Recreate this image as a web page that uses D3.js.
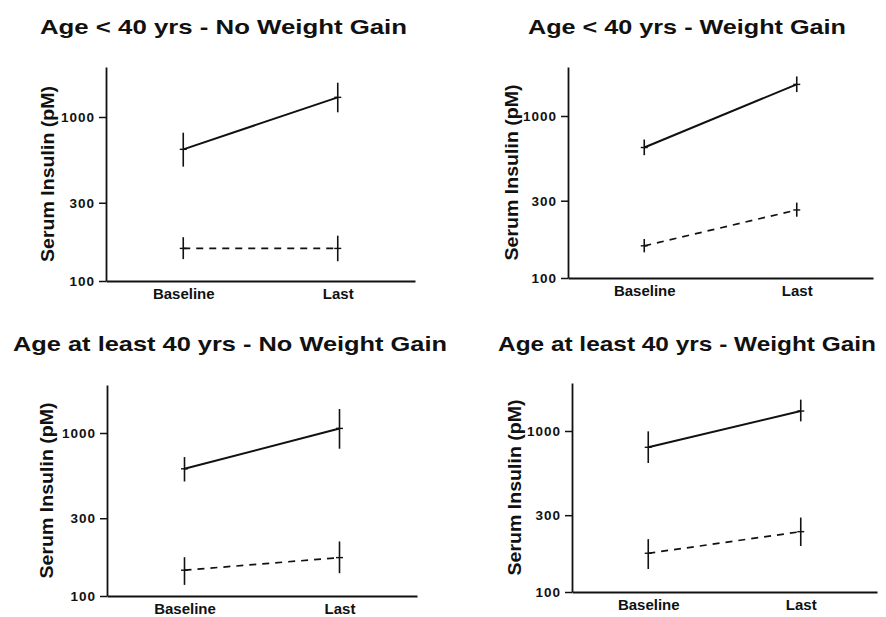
<!DOCTYPE html>
<html>
<head>
<meta charset="utf-8">
<script src="https://cdn.jsdelivr.net/npm/d3@7"></script>
<style>
  html, body { margin: 0; padding: 0; background: #fff; }
  svg { display: block; }
  text { font-family: "Liberation Sans", Arial, Helvetica, sans-serif; font-weight: bold; fill: #111; }
</style>
</head>
<body>
<svg id="chart" width="886" height="617"></svg>
<script>
// ---------- data ----------
const categories = ["Baseline", "Last"];
const yTickValues = [100, 300, 1000];
const panelTitles = [
  "Age < 40 yrs - No Weight Gain",
  "Age < 40 yrs - Weight Gain",
  "Age at least 40 yrs - No Weight Gain",
  "Age at least 40 yrs - Weight Gain"
];
const yAxisLabel = "Serum Insulin (pM)";

// solid-line group: mean and error-bar ends per panel [Baseline, Last]
const solidMean = [[635, 1318], [639, 1567], [603, 1067], [792, 1330]];
const solidLow  = [[498, 1068], [573, 1405], [504, 801],  [633, 1148]];
const solidHigh = [[802, 1618], [716, 1755], [712, 1404], [995, 1566]];

// dashed-line group
const dashedMean = [[158, 158], [158, 263], [144, 172], [174, 237]];
const dashedLow  = [[136, 132], [144, 239], [117, 138], [139, 193]];
const dashedHigh = [[185, 189], [174, 292], [173, 216], [213, 290]];

// ---------- layout ----------
const layout = [
  { axisX: 106, right: 415, top: 67,  y100: 281, y1000: 117, titleX: 223.5, titleY: 34,  titleW: 367, labelX: 48 },
  { axisX: 568, right: 873, top: 67,  y100: 278, y1000: 116, titleX: 687,   titleY: 34,  titleW: 318, labelX: 512 },
  { axisX: 107, right: 417, top: 385, y100: 596, y1000: 433, titleX: 230,   titleY: 351, titleW: 434, labelX: 47 },
  { axisX: 572, right: 877, top: 383, y100: 592, y1000: 431, titleX: 687,   titleY: 351, titleW: 378, labelX: 515 }
];

const svg = d3.select("#chart");

layout.forEach((L, i) => {
  const g = svg.append("g");

  // log y scale anchored at 100 and 1000, extended to the top of the axis
  const y0 = d3.scaleLog().domain([100, 1000]).range([L.y100, L.y1000]);
  const y = d3.scaleLog().domain([100, y0.invert(L.top)]).range([L.y100, L.top]);
  const x = d3.scalePoint().domain(categories).range([L.axisX, L.right]).padding(0.5);

  // title
  g.append("text")
    .attr("x", L.titleX).attr("y", L.titleY)
    .attr("text-anchor", "middle")
    .attr("font-size", 20.5)
    .attr("textLength", L.titleW)
    .attr("lengthAdjust", "spacingAndGlyphs")
    .text(panelTitles[i]);

  // y axis
  const yAxis = d3.axisLeft(y).tickValues(yTickValues).tickFormat(d3.format("d"))
    .tickSizeInner(7).tickSizeOuter(0).tickPadding(4);
  const ya = g.append("g").attr("transform", `translate(${L.axisX},0)`).call(yAxis);
  ya.select(".domain").attr("stroke", "#111").attr("stroke-width", 1.8);
  ya.selectAll(".tick line").attr("stroke", "#111").attr("stroke-width", 1.5);
  ya.selectAll(".tick text").attr("font-size", 13.5).attr("font-family", null)
    .attr("letter-spacing", 1).attr("fill", "#111");

  // x axis
  const xAxis = d3.axisBottom(x).tickSize(0).tickPadding(7);
  const xa = g.append("g").attr("transform", `translate(0,${L.y100})`).call(xAxis);
  xa.select(".domain").attr("stroke", "#111").attr("stroke-width", 1.8);
  xa.selectAll(".tick text").attr("font-size", 15).attr("font-family", null).attr("fill", "#111");

  // y axis label
  const midY = (L.top + L.y100) / 2;
  g.append("text")
    .attr("transform", `translate(${L.labelX},${midY}) rotate(-90)`)
    .attr("text-anchor", "middle")
    .attr("dy", "0.35em")
    .attr("font-size", 18)
    .attr("textLength", 176)
    .attr("lengthAdjust", "spacingAndGlyphs")
    .text(yAxisLabel);

  // series
  const groups = [
    { mean: solidMean[i], low: solidLow[i], high: solidHigh[i], dash: null, w: 2 },
    { mean: dashedMean[i], low: dashedLow[i], high: dashedHigh[i], dash: "7,6", w: 1.7 }
  ];
  groups.forEach(s => {
    const pts = categories.map((c, k) => ({ c, m: s.mean[k], lo: s.low[k], hi: s.high[k] }));
    g.append("path")
      .datum(pts)
      .attr("fill", "none")
      .attr("stroke", "#111")
      .attr("stroke-width", s.w)
      .attr("stroke-dasharray", s.dash)
      .attr("d", d3.line().x(d => x(d.c)).y(d => y(d.m)));
    g.selectAll(null).data(pts).enter().append("line")
      .attr("x1", d => x(d.c)).attr("x2", d => x(d.c))
      .attr("y1", d => y(d.lo)).attr("y2", d => y(d.hi))
      .attr("stroke", "#111").attr("stroke-width", 1.6);
    g.selectAll(null).data(pts).enter().append("line")
      .attr("x1", d => x(d.c) - 3.5).attr("x2", d => x(d.c) + 3.5)
      .attr("y1", d => y(d.m)).attr("y2", d => y(d.m))
      .attr("stroke", "#111").attr("stroke-width", 1.4);
  });
});
</script>
</body>
</html>
